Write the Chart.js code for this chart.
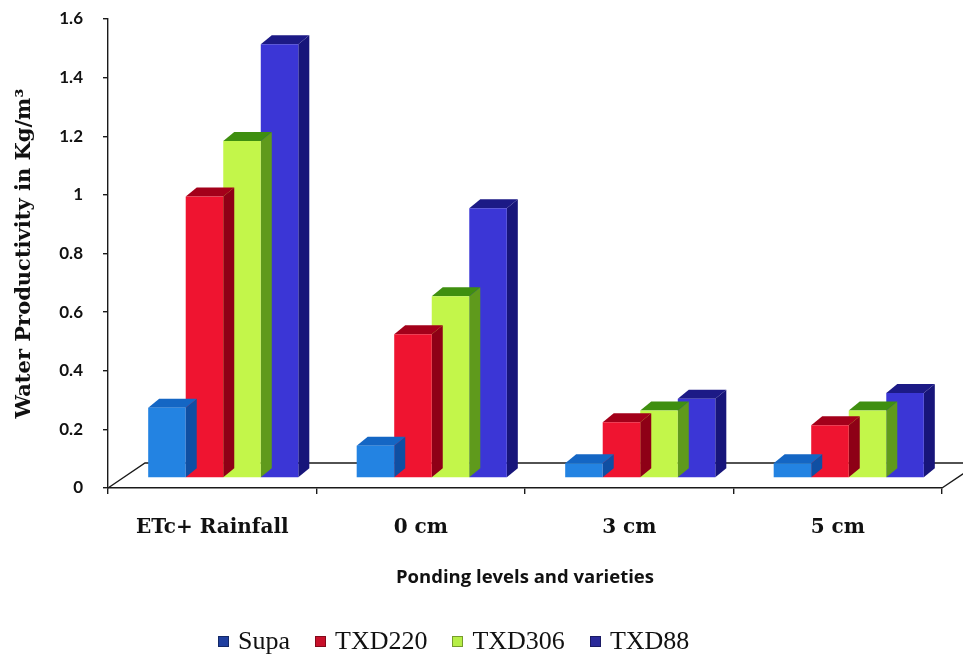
<!DOCTYPE html>
<html>
<head>
<meta charset="utf-8">
<script src="https://cdn.jsdelivr.net/npm/chart.js@4.4.1/dist/chart.umd.min.js"></script>
<style>
  html, body { margin: 0; padding: 0; background: #ffffff; }
  #wrap { position: relative; width: 963px; height: 657px; }
  #legend { position: absolute; left: 218px; top: 626px; display: flex; align-items: center;
            font-family: "Liberation Serif", "Times New Roman", serif; font-size: 26px; color: #111; white-space: nowrap; }
  #legend .item { display: flex; align-items: center; margin-right: 25px; }
  #legend .key { width: 11px; height: 11px; margin-right: 9px; box-sizing: border-box; }
</style>
</head>
<body>
<div id="wrap">
  <canvas id="chart" width="963" height="657"></canvas>
  <div id="legend"></div>
</div>
<script>
// Ponding levels (categories) and water productivity per variety
const categories = ['ETc+ Rainfall', '0 cm', '3 cm', '5 cm'];
const seriesNames = ['Supa', 'TXD220', 'TXD306', 'TXD88'];
const supa   = [0.24, 0.11, 0.05, 0.05];
const txd220 = [0.96, 0.49, 0.19, 0.18];
const txd306 = [1.15, 0.62, 0.23, 0.23];
const txd88  = [1.48, 0.92, 0.27, 0.29];
const yTicks = { min: 0, max: 1.6, step: 0.2 };

// face colours of the 3-D columns
const frontColors = ['#2383e2', '#ef1430', '#c3f64a', '#3b36d6'];
const topColors   = ['#1466c4', '#a3001a', '#3f8f10', '#1c1a86'];
const sideColors  = ['#0f4fa3', '#8e0016', '#5f9a1c', '#17157a'];
const keyColors   = ['#1f3f9f', '#c8102a', '#b6ee46', '#2a2a9a'];

// oblique projection: columns stand mid-floor, floor runs back up-right
const SHIFT_X = 11, SHIFT_Y = -10;   // column front relative to front axis
const DEPTH_X = 11, DEPTH_Y = -9;    // column depth
const FLOOR_X = 37, FLOOR_Y = -25;   // floor depth

const columns3d = {
  id: 'columns3d',
  beforeDatasetsDraw(chart) {
    const { ctx, chartArea: a } = chart;
    ctx.save();
    ctx.strokeStyle = '#1a1a1a';
    ctx.lineWidth = 1.4;
    ctx.beginPath();
    ctx.moveTo(a.left, a.bottom);
    ctx.lineTo(a.left + FLOOR_X, a.bottom + FLOOR_Y);
    ctx.lineTo(a.right + FLOOR_X, a.bottom + FLOOR_Y);
    ctx.moveTo(a.right, a.bottom);
    ctx.lineTo(a.right + FLOOR_X, a.bottom + FLOOR_Y);
    ctx.stroke();
    ctx.restore();
  },
  beforeDatasetDraw(chart, args) {
    const ctx = chart.ctx;
    const i = args.index;
    ctx.save();
    ctx.translate(SHIFT_X, SHIFT_Y);
    args.meta.data.forEach(bar => {
      const { x, y, base, width } = bar.getProps(['x', 'y', 'base', 'width'], true);
      const l = x - width / 2, r = x + width / 2;
      // right side face
      ctx.fillStyle = sideColors[i];
      ctx.beginPath();
      ctx.moveTo(r, y);
      ctx.lineTo(r + DEPTH_X, y + DEPTH_Y);
      ctx.lineTo(r + DEPTH_X, base + DEPTH_Y);
      ctx.lineTo(r, base);
      ctx.closePath();
      ctx.fill();
      // top face
      ctx.fillStyle = topColors[i];
      ctx.beginPath();
      ctx.moveTo(l, y);
      ctx.lineTo(l + DEPTH_X, y + DEPTH_Y);
      ctx.lineTo(r + DEPTH_X, y + DEPTH_Y);
      ctx.lineTo(r, y);
      ctx.closePath();
      ctx.fill();
    });
    // front faces are drawn by Chart.js inside this translation
  },
  afterDatasetDraw(chart) {
    chart.ctx.restore();
  }
};

const seriesValues = [supa, txd220, txd306, txd88];

new Chart(document.getElementById('chart'), {
  type: 'bar',
  data: {
    labels: categories,
    datasets: seriesNames.map((name, i) => ({
      label: name,
      data: seriesValues[i],
      backgroundColor: frontColors[i],
      borderWidth: 0,
      barPercentage: 1.0,
      categoryPercentage: 0.72,
      clip: false
    }))
  },
  options: {
    responsive: false,
    animation: false,
    devicePixelRatio: 1,
    layout: { padding: { left: 12, right: 21, top: 19, bottom: 67 } },
    plugins: {
      legend: { display: false },
      tooltip: { enabled: false }
    },
    scales: {
      x: {
        grid: { offset: true, drawOnChartArea: false, drawTicks: true, tickLength: 6, color: '#1a1a1a', lineWidth: 1.4 },
        border: { color: '#1a1a1a', width: 1.4 },
        ticks: { color: '#111', padding: 22, font: { family: 'DejaVu Serif', weight: 'bold', size: 20 } },
        title: {
          display: true,
          text: 'Ponding levels and varieties',
          color: '#111',
          font: { family: 'Open Sans', weight: 'bold', size: 18.5 },
          padding: { top: 0, bottom: 1 }
        },
        afterFit(scale) { scale.height = 102; }
      },
      y: {
        min: yTicks.min,
        max: yTicks.max,
        grid: { drawOnChartArea: false, drawTicks: true, tickLength: 5, color: '#1a1a1a', lineWidth: 1.4 },
        border: { color: '#1a1a1a', width: 1.4 },
        ticks: {
          stepSize: yTicks.step,
          color: '#111',
          padding: 20,
          font: { family: 'Lato', weight: 'bold', size: 17 },
          callback: v => String(Math.round(v * 10) / 10)
        },
        title: {
          display: true,
          text: 'Water Productivity in Kg/m³',
          color: '#111',
          font: { family: 'DejaVu Serif', weight: 'bold', size: 21 },
          padding: { top: 0, bottom: 0 }
        },
        afterFit(scale) {
          scale.width = 96;
          scale.paddingTop = 10;
          scale.paddingBottom = 10;
        }
      }
    }
  },
  plugins: [columns3d]
});

// legend keys
const legend = document.getElementById('legend');
seriesNames.forEach((name, i) => {
  const item = document.createElement('span');
  item.className = 'item';
  const key = document.createElement('span');
  key.className = 'key';
  key.style.background = keyColors[i];
  key.style.border = '1px solid rgba(0,0,0,0.35)';
  const txt = document.createElement('span');
  txt.textContent = name;
  item.appendChild(key);
  item.appendChild(txt);
  legend.appendChild(item);
});
</script>
</body>
</html>
